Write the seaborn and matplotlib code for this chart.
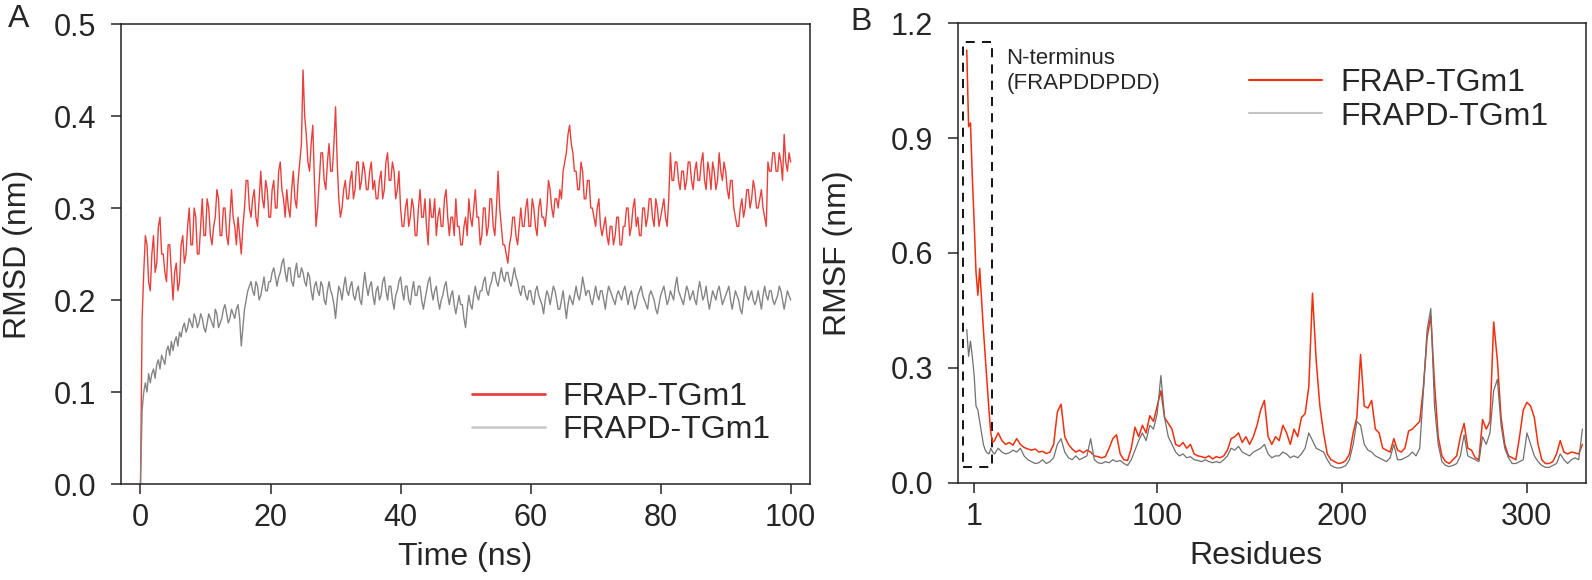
import numpy as np
import pandas as pd
import matplotlib
matplotlib.use("Agg")
import matplotlib.pyplot as plt
from matplotlib.patches import Rectangle
import seaborn as sns

# RMSD (panel A), one value every 0.25 ns (one row = 5 ns)
rmsd_frap = [
    0.00, 0.18, 0.23, 0.27, 0.26, 0.22, 0.21, 0.25, 0.27, 0.23, 0.24, 0.28, 0.29, 0.25, 0.25, 0.23, 0.22, 0.26, 0.26, 0.23,
    0.20, 0.23, 0.24, 0.21, 0.22, 0.26, 0.27, 0.24, 0.25, 0.28, 0.30, 0.26, 0.26, 0.30, 0.29, 0.25, 0.25, 0.28, 0.31, 0.27,
    0.27, 0.31, 0.30, 0.27, 0.26, 0.28, 0.29, 0.32, 0.31, 0.27, 0.27, 0.30, 0.30, 0.27, 0.26, 0.29, 0.32, 0.29, 0.28, 0.26,
    0.29, 0.27, 0.25, 0.28, 0.30, 0.33, 0.33, 0.30, 0.29, 0.31, 0.32, 0.29, 0.28, 0.31, 0.34, 0.31, 0.30, 0.33, 0.32, 0.29,
    0.29, 0.32, 0.33, 0.30, 0.30, 0.34, 0.35, 0.32, 0.31, 0.29, 0.32, 0.30, 0.29, 0.32, 0.34, 0.31, 0.30, 0.33, 0.35, 0.37,
    0.45, 0.40, 0.38, 0.35, 0.34, 0.37, 0.39, 0.33, 0.28, 0.30, 0.33, 0.36, 0.36, 0.33, 0.32, 0.35, 0.37, 0.34, 0.34, 0.37,
    0.41, 0.35, 0.31, 0.29, 0.30, 0.32, 0.33, 0.31, 0.31, 0.33, 0.34, 0.31, 0.32, 0.35, 0.35, 0.32, 0.33, 0.35, 0.34, 0.32,
    0.32, 0.34, 0.35, 0.32, 0.33, 0.31, 0.31, 0.33, 0.34, 0.31, 0.32, 0.35, 0.36, 0.33, 0.33, 0.35, 0.34, 0.31, 0.32, 0.34,
    0.30, 0.28, 0.28, 0.30, 0.31, 0.28, 0.29, 0.31, 0.30, 0.27, 0.27, 0.30, 0.32, 0.29, 0.29, 0.31, 0.28, 0.26, 0.31, 0.29,
    0.29, 0.31, 0.27, 0.29, 0.30, 0.28, 0.28, 0.31, 0.32, 0.29, 0.27, 0.29, 0.29, 0.27, 0.31, 0.28, 0.28, 0.26, 0.26, 0.28,
    0.29, 0.27, 0.31, 0.29, 0.28, 0.30, 0.32, 0.29, 0.29, 0.26, 0.27, 0.30, 0.30, 0.27, 0.28, 0.31, 0.31, 0.28, 0.27, 0.30,
    0.34, 0.30, 0.28, 0.26, 0.26, 0.25, 0.24, 0.26, 0.27, 0.29, 0.29, 0.27, 0.26, 0.28, 0.30, 0.28, 0.28, 0.30, 0.31, 0.28,
    0.28, 0.31, 0.30, 0.28, 0.27, 0.30, 0.31, 0.29, 0.29, 0.28, 0.30, 0.33, 0.32, 0.30, 0.29, 0.31, 0.31, 0.30, 0.32, 0.31,
    0.34, 0.35, 0.36, 0.38, 0.39, 0.37, 0.36, 0.34, 0.34, 0.32, 0.32, 0.35, 0.34, 0.31, 0.31, 0.33, 0.33, 0.30, 0.30, 0.29,
    0.28, 0.30, 0.31, 0.28, 0.27, 0.28, 0.29, 0.27, 0.26, 0.28, 0.28, 0.26, 0.27, 0.29, 0.29, 0.26, 0.26, 0.28, 0.28, 0.30,
    0.30, 0.27, 0.28, 0.30, 0.31, 0.28, 0.29, 0.27, 0.27, 0.30, 0.30, 0.28, 0.29, 0.31, 0.31, 0.29, 0.28, 0.31, 0.30, 0.28,
    0.29, 0.30, 0.31, 0.29, 0.28, 0.31, 0.36, 0.33, 0.33, 0.35, 0.35, 0.33, 0.32, 0.34, 0.34, 0.32, 0.33, 0.35, 0.35, 0.33,
    0.32, 0.34, 0.35, 0.33, 0.33, 0.35, 0.36, 0.33, 0.32, 0.35, 0.34, 0.32, 0.35, 0.34, 0.32, 0.33, 0.36, 0.34, 0.33, 0.35,
    0.34, 0.32, 0.31, 0.33, 0.33, 0.30, 0.29, 0.28, 0.28, 0.30, 0.31, 0.29, 0.30, 0.32, 0.32, 0.30, 0.31, 0.33, 0.32, 0.30,
    0.30, 0.31, 0.32, 0.30, 0.29, 0.28, 0.35, 0.34, 0.34, 0.36, 0.36, 0.34, 0.34, 0.36, 0.35, 0.33, 0.38, 0.35, 0.34, 0.36,
    0.35]
rmsd_frapd = [
    0.00, 0.08, 0.10, 0.11, 0.10, 0.12, 0.11, 0.12, 0.125, 0.115, 0.13, 0.135, 0.125, 0.14, 0.135, 0.13, 0.145, 0.15, 0.14, 0.155,
    0.145, 0.155, 0.16, 0.15, 0.165, 0.16, 0.17, 0.175, 0.165, 0.17, 0.18, 0.175, 0.17, 0.185, 0.18, 0.17, 0.175, 0.185, 0.18, 0.17,
    0.165, 0.175, 0.185, 0.18, 0.175, 0.17, 0.19, 0.185, 0.17, 0.175, 0.18, 0.19, 0.195, 0.185, 0.175, 0.18, 0.19, 0.185, 0.18, 0.19,
    0.195, 0.18, 0.15, 0.17, 0.19, 0.20, 0.21, 0.215, 0.22, 0.21, 0.205, 0.22, 0.215, 0.20, 0.205, 0.215, 0.225, 0.21, 0.21, 0.22,
    0.22, 0.23, 0.235, 0.225, 0.215, 0.225, 0.23, 0.24, 0.245, 0.23, 0.22, 0.235, 0.235, 0.22, 0.215, 0.23, 0.24, 0.225, 0.225, 0.235,
    0.23, 0.22, 0.215, 0.23, 0.225, 0.21, 0.20, 0.215, 0.22, 0.21, 0.205, 0.22, 0.215, 0.20, 0.195, 0.21, 0.22, 0.21, 0.205, 0.195,
    0.18, 0.20, 0.215, 0.21, 0.20, 0.215, 0.225, 0.21, 0.205, 0.215, 0.22, 0.205, 0.20, 0.21, 0.215, 0.20, 0.195, 0.215, 0.23, 0.215,
    0.205, 0.215, 0.22, 0.205, 0.195, 0.21, 0.215, 0.20, 0.205, 0.22, 0.225, 0.21, 0.20, 0.215, 0.215, 0.20, 0.19, 0.205, 0.21, 0.22,
    0.225, 0.21, 0.20, 0.215, 0.215, 0.20, 0.195, 0.21, 0.22, 0.205, 0.205, 0.215, 0.215, 0.20, 0.19, 0.20, 0.21, 0.22, 0.225, 0.21,
    0.20, 0.21, 0.215, 0.20, 0.19, 0.20, 0.205, 0.215, 0.22, 0.205, 0.195, 0.205, 0.21, 0.195, 0.185, 0.195, 0.205, 0.195, 0.195, 0.18,
    0.17, 0.19, 0.205, 0.195, 0.19, 0.205, 0.215, 0.205, 0.20, 0.21, 0.21, 0.22, 0.225, 0.21, 0.205, 0.215, 0.22, 0.23, 0.23, 0.22,
    0.215, 0.225, 0.235, 0.225, 0.22, 0.23, 0.23, 0.22, 0.215, 0.225, 0.235, 0.225, 0.22, 0.21, 0.205, 0.215, 0.215, 0.205, 0.20, 0.21,
    0.21, 0.20, 0.195, 0.21, 0.215, 0.205, 0.20, 0.195, 0.185, 0.20, 0.21, 0.205, 0.195, 0.205, 0.215, 0.21, 0.20, 0.19, 0.19, 0.20,
    0.21, 0.195, 0.18, 0.195, 0.205, 0.20, 0.195, 0.205, 0.215, 0.205, 0.20, 0.21, 0.225, 0.215, 0.205, 0.21, 0.21, 0.20, 0.195, 0.205,
    0.215, 0.205, 0.20, 0.21, 0.21, 0.20, 0.19, 0.205, 0.215, 0.21, 0.205, 0.20, 0.195, 0.205, 0.21, 0.205, 0.20, 0.21, 0.215, 0.205,
    0.195, 0.205, 0.21, 0.20, 0.19, 0.195, 0.205, 0.21, 0.215, 0.205, 0.20, 0.195, 0.19, 0.205, 0.21, 0.205, 0.20, 0.19, 0.185, 0.195,
    0.205, 0.21, 0.215, 0.205, 0.195, 0.20, 0.21, 0.205, 0.20, 0.215, 0.225, 0.21, 0.205, 0.20, 0.195, 0.205, 0.215, 0.21, 0.20, 0.205,
    0.21, 0.20, 0.195, 0.21, 0.22, 0.21, 0.20, 0.205, 0.215, 0.20, 0.19, 0.20, 0.21, 0.205, 0.20, 0.21, 0.215, 0.205, 0.195, 0.20,
    0.205, 0.21, 0.215, 0.20, 0.19, 0.20, 0.21, 0.205, 0.20, 0.19, 0.185, 0.20, 0.215, 0.205, 0.20, 0.205, 0.21, 0.20, 0.195, 0.20,
    0.21, 0.20, 0.19, 0.205, 0.215, 0.205, 0.20, 0.21, 0.21, 0.20, 0.195, 0.20, 0.205, 0.215, 0.21, 0.20, 0.19, 0.20, 0.21, 0.205,
    0.20]
time_ns = np.arange(len(rmsd_frap)) * 0.25

# RMSF (panel B): N-terminal tag residue by residue, then every 2nd residue
res_nterm = np.arange(-3, 12)
rmsf_frap_nterm = [1.13, 0.93, 0.94, 0.80, 0.68, 0.55, 0.49, 0.56, 0.48, 0.40,
                   0.33, 0.26, 0.19, 0.13, 0.105]
rmsf_frapd_nterm = [0.40, 0.33, 0.37, 0.33, 0.28, 0.20, 0.19, 0.16, 0.13, 0.10,
                    0.085, 0.078, 0.075, 0.09, 0.08]
res_body = np.arange(12, 332, 2)
rmsf_frap_body = [
    0.110, 0.130, 0.110, 0.100, 0.105, 0.098, 0.115, 0.100, 0.092, 0.088,
    0.085, 0.088, 0.080, 0.082, 0.076, 0.080, 0.100, 0.185, 0.205, 0.120,
    0.100, 0.088, 0.080, 0.085, 0.078, 0.085, 0.080, 0.070, 0.068, 0.065,
    0.068, 0.090, 0.115, 0.125, 0.075, 0.060, 0.058, 0.090, 0.145, 0.120,
    0.150, 0.130, 0.175, 0.160, 0.200, 0.240, 0.170, 0.155, 0.140, 0.100,
    0.095, 0.105, 0.090, 0.100, 0.075, 0.070, 0.068, 0.065, 0.070, 0.062,
    0.068, 0.065, 0.070, 0.085, 0.115, 0.120, 0.130, 0.105, 0.120, 0.100,
    0.120, 0.150, 0.190, 0.215, 0.120, 0.100, 0.120, 0.110, 0.150, 0.130,
    0.100, 0.140, 0.120, 0.170, 0.180, 0.250, 0.495, 0.320, 0.200, 0.130,
    0.075, 0.060, 0.055, 0.050, 0.052, 0.058, 0.075, 0.130, 0.170, 0.335,
    0.200, 0.195, 0.215, 0.140, 0.130, 0.090, 0.085, 0.080, 0.115, 0.085,
    0.080, 0.090, 0.135, 0.140, 0.150, 0.160, 0.250, 0.380, 0.435, 0.260,
    0.120, 0.070, 0.055, 0.050, 0.060, 0.070, 0.120, 0.155, 0.090, 0.085,
    0.065, 0.060, 0.165, 0.140, 0.160, 0.420, 0.320, 0.170, 0.100, 0.070,
    0.065, 0.060, 0.120, 0.190, 0.210, 0.200, 0.170, 0.100, 0.060, 0.050,
    0.050, 0.055, 0.075, 0.110, 0.080, 0.075, 0.080, 0.078, 0.075, 0.100]
rmsf_frapd_body = [
    0.075, 0.090, 0.080, 0.075, 0.078, 0.085, 0.080, 0.090, 0.070, 0.060,
    0.055, 0.050, 0.052, 0.060, 0.050, 0.055, 0.065, 0.100, 0.115, 0.080,
    0.065, 0.060, 0.070, 0.060, 0.065, 0.070, 0.115, 0.060, 0.052, 0.050,
    0.055, 0.052, 0.060, 0.055, 0.058, 0.050, 0.045, 0.060, 0.085, 0.110,
    0.130, 0.110, 0.150, 0.140, 0.180, 0.280, 0.170, 0.120, 0.100, 0.080,
    0.070, 0.075, 0.065, 0.068, 0.060, 0.058, 0.055, 0.060, 0.055, 0.052,
    0.055, 0.052, 0.060, 0.070, 0.090, 0.085, 0.095, 0.080, 0.075, 0.070,
    0.080, 0.085, 0.090, 0.100, 0.075, 0.065, 0.070, 0.070, 0.080, 0.075,
    0.065, 0.070, 0.065, 0.075, 0.090, 0.130, 0.110, 0.090, 0.085, 0.080,
    0.060, 0.045, 0.040, 0.038, 0.040, 0.045, 0.060, 0.100, 0.160, 0.150,
    0.100, 0.085, 0.080, 0.070, 0.065, 0.060, 0.055, 0.065, 0.100, 0.060,
    0.060, 0.065, 0.070, 0.080, 0.070, 0.090, 0.240, 0.400, 0.455, 0.200,
    0.100, 0.055, 0.045, 0.042, 0.045, 0.050, 0.070, 0.125, 0.070, 0.065,
    0.060, 0.055, 0.120, 0.100, 0.130, 0.240, 0.270, 0.150, 0.090, 0.065,
    0.050, 0.050, 0.055, 0.060, 0.130, 0.100, 0.070, 0.055, 0.045, 0.040,
    0.040, 0.045, 0.050, 0.075, 0.060, 0.050, 0.060, 0.065, 0.060, 0.140]

series_names = ["FRAP-TGm1", "FRAPD-TGm1"]

sns.set_style("ticks")
plt.rcParams['font.family'] = ['Liberation Sans', 'DejaVu Sans']

df_rmsd = pd.DataFrame({"time": time_ns, "FRAP": rmsd_frap, "FRAPD": rmsd_frapd})
residues = np.concatenate([res_nterm, res_body])
df_rmsf = pd.DataFrame({
    "res": residues,
    "FRAP": np.concatenate([rmsf_frap_nterm, rmsf_frap_body]),
    "FRAPD": np.concatenate([rmsf_frapd_nterm, rmsf_frapd_body]),
})

fig = plt.figure(figsize=(15.92, 5.80), dpi=100)
ax1 = fig.add_axes([0.076, 0.1655, 0.4329, 0.7931])
ax2 = fig.add_axes([0.6018, 0.1678, 0.3945, 0.7920])

# panel A
sns.lineplot(data=df_rmsd, x="time", y="FRAP", ax=ax1, color="#e8403c", lw=1.0,
             label=series_names[0])
sns.lineplot(data=df_rmsd, x="time", y="FRAPD", ax=ax1, color="#858585", lw=1.0,
             label=series_names[1])
ax1.set_xlim(-3, 103)
ax1.set_ylim(0, 0.5)
ax1.set_xticks([0, 20, 40, 60, 80, 100])
ax1.set_yticks([0.0, 0.1, 0.2, 0.3, 0.4, 0.5])
ax1.set_xlabel("Time (ns)", fontsize=23)
ax1.set_ylabel("RMSD (nm)", fontsize=23)
ax1.xaxis.set_label_coords(0.5, -0.125)
ax1.yaxis.set_label_coords(-0.128, 0.5)
leg1 = ax1.legend(loc="center left", bbox_to_anchor=(0.509, 0.153), frameon=False,
                  fontsize=23, handlelength=2.3, handletextpad=0.55,
                  labelspacing=0.1, borderpad=0, borderaxespad=0)
leg1.get_lines()[0].set_linewidth(2)
leg1.get_lines()[1].set_linewidth(2)
leg1.get_lines()[1].set_color("#cccccc")

# panel B
sns.lineplot(data=df_rmsf, x="res", y="FRAP", ax=ax2, color="#f0300f", lw=1.1,
             label=series_names[0])
sns.lineplot(data=df_rmsf, x="res", y="FRAPD", ax=ax2, color="#707070", lw=0.9,
             label=series_names[1])
ax2.set_xlim(-7.7, 332)
ax2.set_ylim(0, 1.2)
ax2.set_xticks([1, 100, 200, 300])
ax2.set_yticks([0.0, 0.3, 0.6, 0.9, 1.2])
ax2.set_xlabel("Residues", fontsize=23)
ax2.set_ylabel("RMSF (nm)", fontsize=23)
ax2.xaxis.set_label_coords(0.475, -0.127)
ax2.yaxis.set_label_coords(-0.167, 0.5)
leg2 = ax2.legend(loc="center left", bbox_to_anchor=(0.463, 0.833), frameon=False,
                  fontsize=23, handlelength=2.3, handletextpad=0.55,
                  labelspacing=0.1, borderpad=0, borderaxespad=0)
leg2.get_lines()[0].set_linewidth(1.5)
leg2.get_lines()[1].set_linewidth(1.5)
leg2.get_lines()[1].set_color("#c4c4c4")

# dashed box round the N-terminal tag
ax2.add_patch(Rectangle((-5.1, 0.04), 16.0, 1.112, fill=False, edgecolor="black",
                        lw=1.3, linestyle=(0, (5, 4))))
ax2.text(18.3, 1.135, "N-terminus\n(FRAPDDPDD)", fontsize=16, va="top", ha="left",
         linespacing=1.25)

for ax in (ax1, ax2):
    for s in ax.spines.values():
        s.set_visible(True)
        s.set_linewidth(1.1)
        s.set_color("#222222")
    ax.tick_params(axis="both", labelsize=22, length=7, width=1.1, direction="out",
                   top=False, right=False)
    ax.tick_params(axis="x", pad=7)
    ax.tick_params(axis="y", pad=11)

fig.text(0.005, 0.968, "A", fontsize=23, va="center", ha="left")
fig.text(0.534, 0.962, "B", fontsize=23, va="center", ha="left")

fig.savefig("out.png", dpi=100)
